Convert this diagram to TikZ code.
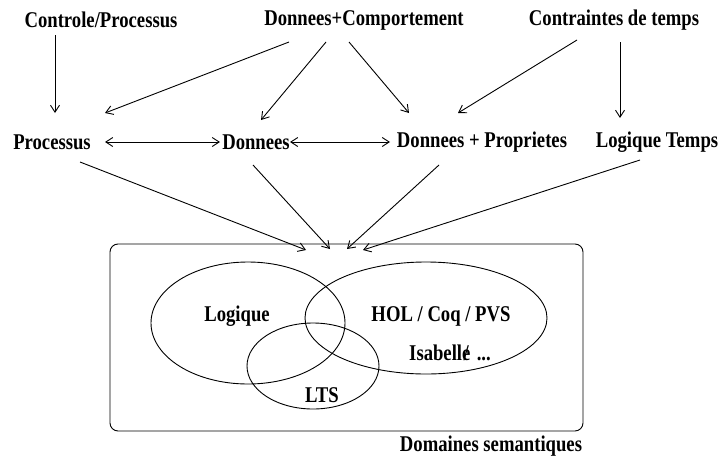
\documentclass[tikz,border=0pt]{standalone}
\usepackage{fontspec}
\setmainfont{Liberation Serif}[FakeStretch=0.83]
\usetikzlibrary{arrows.meta}
\tikzset{
  lbl/.style={font=\bfseries\fontsize{22.5}{24}\selectfont, inner sep=0pt, anchor=center},
  arr/.style={line width=0.9pt, -{Straight Barb[length=7pt,width=9pt]}},
  darr/.style={line width=0.9pt, {Straight Barb[length=7pt,width=9pt]}-{Straight Barb[length=7pt,width=9pt]}},
  outl/.style={line width=0.9pt}
}
\begin{document}
\begin{tikzpicture}[x=1pt,y=-1pt]
\useasboundingbox (0,0) rectangle (720,458);
% top row
\node[lbl] (cp) at (101,20) {Controle/Processus};
\node[lbl] (dc) at (364,20) {Donnees+Comportement};
\node[lbl] (ct) at (614,20) {Contraintes de temps};
% middle row
\node[lbl] (pr) at (52,142) {Processus};
\node[lbl] (dn) at (256,142) {Donnees};
\node[lbl] (dp) at (482,142) {Donnees + Proprietes};
\node[lbl] (lt) at (657,142) {Logique Temps};
% connector endpoints
\coordinate (cpS) at (55,35);   \coordinate (prN) at (55,113);
\coordinate (dc1) at (289,42);  \coordinate (pr1) at (105,113);
\coordinate (dc2) at (326,42);  \coordinate (dn1) at (261,120);
\coordinate (dc3) at (349,42);  \coordinate (dp1) at (409,113);
\coordinate (ct1) at (577,40);  \coordinate (dp2) at (458,113);
\coordinate (ctS) at (620,42);  \coordinate (ltN) at (620,118);
\coordinate (prE) at (105,142); \coordinate (dnW) at (220,142);
\coordinate (dnE) at (290,142); \coordinate (dpW) at (390,142);
\coordinate (prS) at (80,162);  \coordinate (b1) at (306,250);
\coordinate (dnS) at (253,165); \coordinate (b2) at (330,249);
\coordinate (dpS) at (439,165); \coordinate (b3) at (347,249);
\coordinate (ltS) at (640,160); \coordinate (b4) at (363,250);
\draw[arr] (cpS) -- (prN);
\draw[arr] (dc1) -- (pr1);
\draw[arr] (dc2) -- (dn1);
\draw[arr] (dc3) -- (dp1);
\draw[arr] (ct1) -- (dp2);
\draw[arr] (ctS) -- (ltN);
\draw[darr] (prE) -- (dnW);
\draw[darr] (dnE) -- (dpW);
\draw[arr] (prS) -- (b1);
\draw[arr] (dnS) -- (b2);
\draw[arr] (dpS) -- (b3);
\draw[arr] (ltS) -- (b4);
% semantic domains box
\draw[outl, rounded corners=8pt] (110,244) rectangle (583,431);
\draw[outl] (248,323) ellipse [x radius=97, y radius=61];
\draw[outl] (426,318) ellipse [x radius=121, y radius=56];
\draw[outl] (313,366) ellipse [x radius=66, y radius=43];
\node[lbl] (lg) at (237,316) {Logique};
\node[lbl] (hol) at (441,316) {HOL / Coq / PVS};
\node[lbl] (isa) at (450,353) {Isabelle\kern-0.3em/\kern0.35em...};
\node[lbl] (lts) at (322,395) {LTS};
\node[lbl] (dom) at (491,446) {Domaines semantiques};
\end{tikzpicture}
\end{document}
